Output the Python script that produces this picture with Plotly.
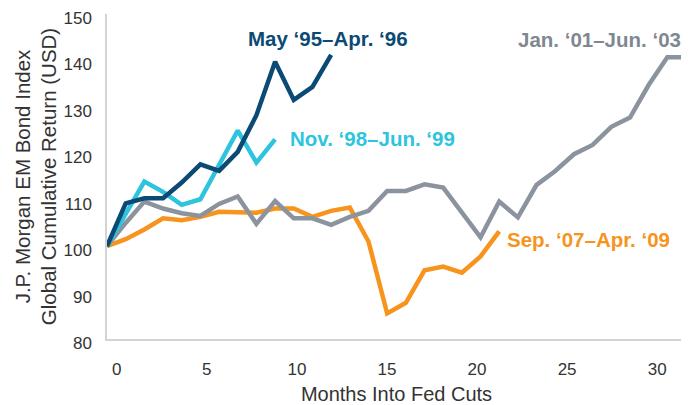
import plotly.graph_objects as go

# Months into Fed cuts (index of each monthly observation)
may95_apr96 = [100, 109.2, 110.3, 110.3, 113.7, 117.6, 116.2, 120.3, 128.2, 139.7, 131.5, 134.3, 141.2]
nov98_jun99 = [100, 107.0, 113.9, 111.7, 108.9, 110.1, 117.3, 124.9, 118.0, 123.0]
jan01_jun03 = [100, 105.0, 109.6, 108.1, 107.1, 106.5, 109.1, 110.7, 104.8, 109.7, 106.0, 106.0,
               104.6, 106.3, 107.6, 111.9, 111.9, 113.3, 112.6, 107.1, 101.9, 109.6, 106.2, 113.2,
               116.2, 119.8, 121.8, 125.7, 127.7, 134.7, 140.7, 140.7]
sep07_apr09 = [100, 101.5, 103.6, 106.0, 105.6, 106.3, 107.4, 107.2, 107.2, 108.1, 108.1, 106.3,
               107.6, 108.3, 101.0, 85.5, 87.8, 94.8, 95.6, 94.3, 97.8, 103.2]

series_names = ["Sep. ‘07–Apr. ‘09", "Jan. ‘01–Jun. ‘03", "Nov. ‘98–Jun. ‘99", "May ‘95–Apr. ‘96"]
series_values = [sep07_apr09, jan01_jun03, nov98_jun99, may95_apr96]
series_colors = ["#f7941d", "#8b949e", "#2ec4de", "#0b4a75"]

x_ticks = [0, 5, 10, 15, 20, 25, 30]
y_ticks = [80, 90, 100, 110, 120, 130, 140, 150]

FONT = "Liberation Sans"
TXT = "#333333"

fig = go.Figure()
for name, vals, col in zip(series_names, series_values, series_colors):
    fig.add_trace(go.Scatter(x=list(range(len(vals))), y=vals, mode="lines", name=name,
                             line=dict(color=col, width=4.5), xaxis="x", yaxis="y"))

# helper trace so the labelled month axis is drawn
fig.add_trace(go.Scatter(x=x_ticks, y=[None] * len(x_ticks), mode="lines", xaxis="x2", yaxis="y",
                         showlegend=False, hoverinfo="skip"))

# series labels
labels = [
    dict(text="May ‘95–Apr. ‘96", x=11.84, y=144.7, xanchor="center", color=series_colors[3], xs=0),
    dict(text="Nov. ‘98–Jun. ‘99", x=9.7, y=123.1, xanchor="left", color=series_colors[2], xs=0),
    dict(text="Jan. ‘01–Jun. ‘03", x=31, y=144.6, xanchor="right", color="#7f8891", xs=-3),
    dict(text="Sep. ‘07–Apr. ‘09", x=21.3, y=101.5, xanchor="left", color=series_colors[0], xs=0),
]
for lab in labels:
    fig.add_annotation(x=lab["x"], y=lab["y"], xref="x", yref="y", text="<b>%s</b>" % lab["text"],
                       showarrow=False, xanchor=lab["xanchor"], yanchor="middle", xshift=lab["xs"],
                       font=dict(family=FONT, size=20.5, color=lab["color"]))

# page body adds an 8px offset, so the figure is sized/margined to compensate
fig.update_layout(
    width=681, height=397,
    margin=dict(l=99, r=3, t=6, b=66),
    paper_bgcolor="white", plot_bgcolor="white",
    showlegend=False,
    font=dict(family=FONT, size=17, color=TXT),
    xaxis=dict(range=[0, 31], showticklabels=False, showgrid=False, zeroline=False,
               showline=True, linecolor="#d3d3d3", linewidth=1.5, ticks="", automargin=False),
    xaxis2=dict(range=[-0.54, 31.6], overlaying="x", anchor="y", side="bottom",
                tickvals=x_ticks, ticktext=[str(t) for t in x_ticks],
                showgrid=False, zeroline=False, showline=False, ticks="",
                ticklabelstandoff=18, automargin=False, ticklabeloverflow="allow",
                tickfont=dict(family=FONT, size=17, color=TXT),
                title=dict(text="Months Into Fed Cuts", standoff=15,
                           font=dict(family=FONT, size=20, color=TXT))),
    yaxis=dict(range=[80, 150], tickvals=y_ticks, showgrid=False, zeroline=False,
               showline=True, linecolor="#d3d3d3", linewidth=1.5, ticks="",
               ticklabelstandoff=10, ticklabelshift=4, automargin=False, ticklabeloverflow="allow",
               tickfont=dict(family=FONT, size=17, color=TXT),
               title=dict(text="J.P. Morgan EM Bond Index<br>Global Cumulative Return (USD)",
                          standoff=1, font=dict(family=FONT, size=20.5, color=TXT))),
)

fig.write_html("out.html")
